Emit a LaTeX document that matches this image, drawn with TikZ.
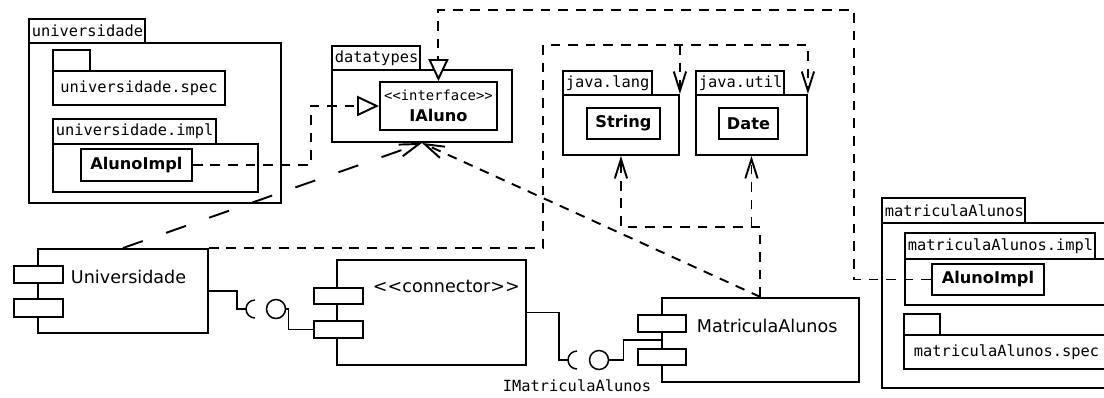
\documentclass[tikz,border=0pt]{standalone}
\usepackage{fontspec}
\setmainfont{DejaVu Sans}
\setmonofont{DejaVu Sans Mono}
\usepackage{tikz}
\usetikzlibrary{arrows.meta}
\newcommand\pkgfont{\fontsize{8.75}{10}\selectfont\ttfamily}
\newcommand\clsfont{\fontsize{9.2}{11}\selectfont\bfseries}
\newcommand\compfont{\fontsize{10}{12}\selectfont}
\newcommand\stfont{\fontsize{7.9}{9}\selectfont\ttfamily\mdseries}

\begin{document}
\begin{tikzpicture}[
  x=0.02cm, y=-0.02cm,
  line width=1.1pt,
  box/.style={draw, fill=white, anchor=north west, inner sep=0pt},
  tab/.style={box, font=\pkgfont, inner xsep=0.06cm, align=left},
  cls/.style={box, font=\clsfont},
  cname/.style={anchor=west, inner sep=0pt, font=\compfont},
  ball/.style={circle, draw, fill=white, minimum size=0.38cm, inner sep=0pt, line width=0.85pt},
  wire/.style={line width=0.85pt},
  dep/.style={dash pattern=on 5.5pt off 4.5pt, -{Straight Barb[length=11pt, width=7pt]}},
  longdep/.style={dep, dash pattern=on 12pt off 14pt},
  real/.style={dash pattern=on 5.5pt off 4.5pt, -{Triangle[open, fill=white, length=12.5pt, width=11.5pt]}}
]
\useasboundingbox (0,0) rectangle (1104,397);
\clip (0,0) rectangle (1104,397);

\node[tab, text width=2.20cm, minimum height=0.48cm] (uniTab) at (28,18) {universidade};
\node[box, minimum width=5.04cm, minimum height=3.2cm] (uniBody) at (28,42) {};
\node[box, minimum width=0.74cm, minimum height=0.42cm] (specTab) at (52,49) {};
\node[box, font=\pkgfont, minimum width=3.44cm, minimum height=0.68cm] (specBody) at (52,70) {universidade.spec};
\node[tab, text width=3.14cm, minimum height=0.5cm] (implTab) at (52,118) {universidade.impl};
\node[box, minimum width=4.1cm, minimum height=0.96cm] (implBody) at (52,143) {};
\node[cls, minimum width=2.22cm, minimum height=0.64cm] (uniImpl) at (80,148) {AlunoImpl};

\node[tab, text width=1.64cm, minimum height=0.48cm] (dtTab) at (331,45) {datatypes};
\node[box, minimum width=3.6cm, minimum height=1.44cm] (dtBody) at (331,69) {};
\node[cls, minimum width=2.34cm, minimum height=0.96cm, align=center] (iAluno) at (379,81)
  {{\stfont <\kern0pt<interface>\kern0pt>}\\[1pt]IAluno};

\node[tab, text width=1.66cm, minimum height=0.48cm] (langTab) at (562,70) {java.lang};
\node[box, minimum width=2.32cm, minimum height=1.2cm] (langBody) at (562,94) {};
\node[cls, minimum width=1.46cm, minimum height=0.62cm] (string) at (586,107) {String};

\node[tab, text width=1.64cm, minimum height=0.48cm] (utilTab) at (695,70) {java.util};
\node[box, minimum width=2.22cm, minimum height=1.2cm] (utilBody) at (695,94) {};
\node[cls, minimum width=1.18cm, minimum height=0.62cm] (date) at (718,107) {Date};

\node[tab, text width=2.74cm, minimum height=0.5cm] (maTab) at (881,197) {matriculaAlunos};
\node[box, minimum width=4.8cm, minimum height=3.3cm] (maBody) at (881,222) {};
\node[tab, text width=3.68cm, minimum height=0.52cm] (maImplTab) at (904,232) {matriculaAlunos.impl};
\node[box, minimum width=4.4cm, minimum height=0.92cm] (maImplBody) at (904,258) {};
\node[cls, minimum width=2.24cm, minimum height=0.62cm] (maImpl) at (931,263) {AlunoImpl};
\node[box, minimum width=0.72cm, minimum height=0.42cm] (maSpecTab) at (903,313) {};
\node[box, font=\pkgfont, text width=4.0cm, inner xsep=0.2cm, align=left, minimum height=0.68cm] (maSpecBody) at (903,334) {matriculaAlunos.spec};

\node[box, minimum width=3.4cm, minimum height=1.68cm] (uniComp) at (37,248) {};
\node[box, minimum width=0.98cm, minimum height=0.34cm] (uniPortA) at (13,265) {};
\node[box, minimum width=0.98cm, minimum height=0.36cm] (uniPortB) at (13,298) {};
\node[cname] (uniName) at (70,277) {Universidade};

\node[box, minimum width=3.78cm, minimum height=2.1cm] (conComp) at (336,259) {};
\node[box, minimum width=0.98cm, minimum height=0.32cm] (conPortA) at (313,287) {};
\node[box, minimum width=0.98cm, minimum height=0.34cm] (conPortB) at (313,320) {};
\node[cname] (conName) at (372,286) {<\kern0pt<connector>\kern0pt>};

\node[box, minimum width=3.94cm, minimum height=1.68cm] (maComp) at (661,297) {};
\node[box, minimum width=0.96cm, minimum height=0.34cm] (maPortA) at (637,314) {};
\node[box, minimum width=0.96cm, minimum height=0.32cm] (maPortB) at (637,348) {};
\node[cname] (maName) at (696,326) {MatriculaAlunos};

\coordinate (sockA) at (246,309);
\node[ball] (ballA) at (276,309) {};
\coordinate (sockB) at (568,360);
\node[ball] (ballB) at (599,360) {};
\node[font=\pkgfont, inner sep=0pt] (ifLbl) at (577,386) {IMatriculaAlunos};

\draw[wire] (uniComp.east) -- ++(28,0) |- (sockA);
\draw[wire] (sockA) arc[start angle=180, end angle=90, radius=0.18cm]
  (sockA) arc[start angle=180, end angle=270, radius=0.18cm];
\draw[wire] (ballA.east) -- ++(2,0) |- (conPortB.west);
\draw[wire] (conComp.east) -- ++(32,0) |- (sockB);
\draw[wire] (sockB) arc[start angle=180, end angle=90, radius=0.18cm]
  (sockB) arc[start angle=180, end angle=270, radius=0.18cm];
\draw[wire] (ballB.east) -- ++(14,0) |- (maComp.west);

\draw[real] (uniImpl.east) -- ++(118,0) |- (iAluno.west);
\draw[real] (maImpl.west) -- ++(-77,0) -- ++(0,-269.5) -| (iAluno.north);
\draw[dep] (uniComp.north east) -- ++(334,0) -- ++(0,-203) coordinate (libTop) -| (utilBody.north east);
\draw[dep] (langBody.north east |- libTop) -- (langBody.north east);
\draw[dep] (maComp.north) -- ++(0,-70) coordinate (useTurn) -| (langBody.south);
\draw[dep] (utilBody.south |- useTurn) -- (utilBody.south);
\draw[longdep] (uniComp.north) -- (dtBody.south);
\draw[dep] (maComp.north) -- (dtBody.south);
\end{tikzpicture}
\end{document}
